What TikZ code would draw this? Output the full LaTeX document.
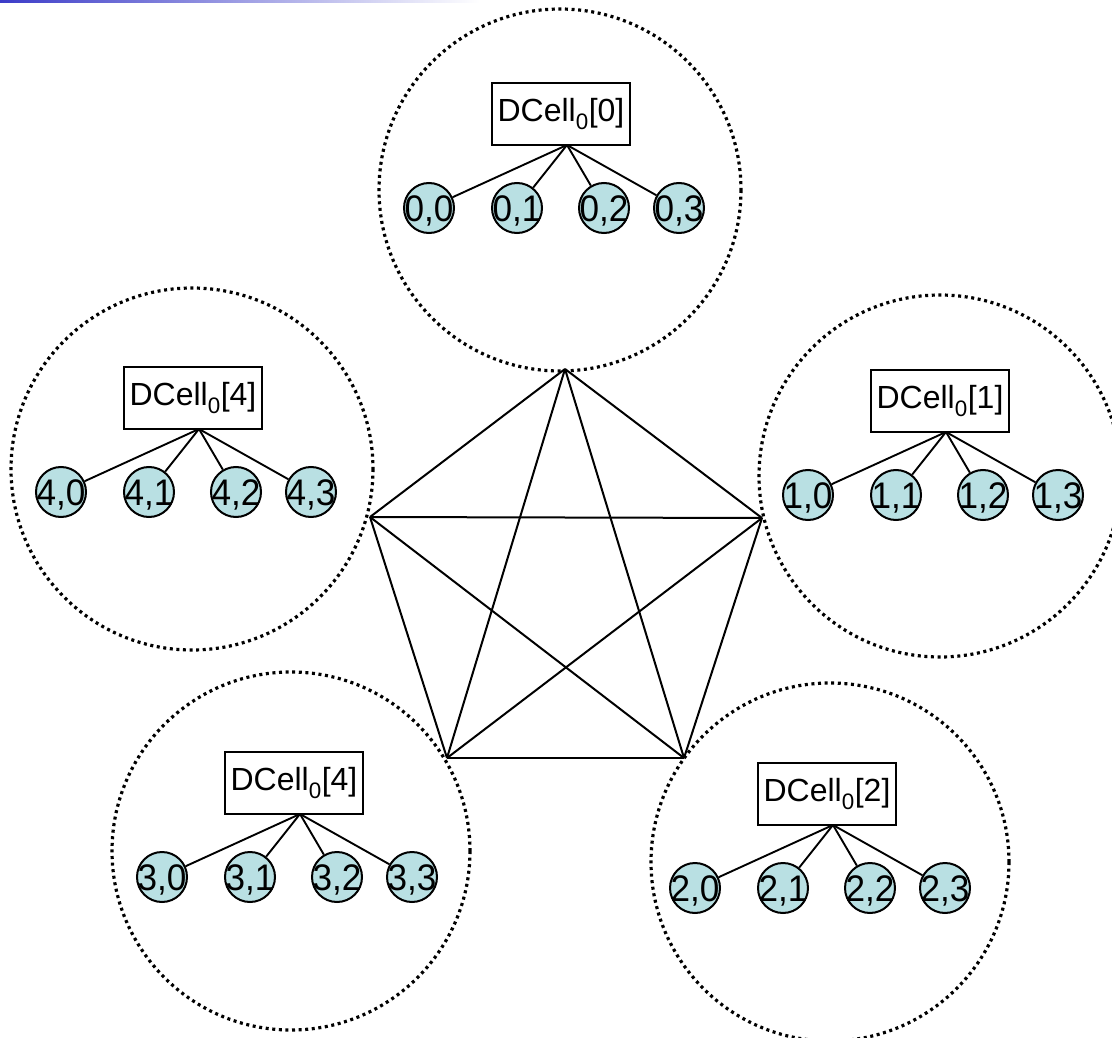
\documentclass[tikz,border=0pt]{standalone}
\usepackage{fontspec}
\setmainfont{Liberation Sans}
\usepackage{graphicx}
\definecolor{srvfill}{RGB}{185,224,227}
\definecolor{barblue}{RGB}{60,60,200}
\begin{document}
\begin{tikzpicture}[x=1pt,y=-1pt,
  ring/.style={draw, line width=3.2pt, dash pattern=on 3pt off 3.6pt},
  cellbox/.style={draw, line width=1.8pt, minimum width=138pt, minimum height=62pt,
    inner sep=0pt, font=\fontsize{32}{36}\selectfont},
  srv/.style={circle, draw, line width=2pt, fill=srvfill, minimum size=50pt, inner sep=0pt},
  srvtext/.style={font=\fontsize{37}{37}\selectfont, inner sep=0pt, yshift=-3pt},
  link/.style={line width=1.9pt},
  mesh/.style={line width=2pt}]
\useasboundingbox (0,0) rectangle (1112,1038);

% thin title bar fading out to the right
\shade[left color=barblue, right color=white] (0,0) rectangle (480,2.5);

% one DCell_0: switch box, apex point and four servers
% #1 server prefix, #2/#3 apex position, #4 box index
\newcommand\dcellgroup[4]{%
  \node[cellbox] (b#1) at (#2-6,#3-31) {DCell\textsubscript{0}[#4]};
  \coordinate (a#1) at (#2,#3);
  \foreach \k/\dx in {0/-138,1/-50,2/37,3/112}{%
    \node[srv, label={[srvtext]center:\scalebox{0.95}[1]{#1,\k}}] (s#1\k) at (#2+\dx,#3+63) {};
    \draw[link] (a#1) -- (s#1\k);
  }%
}

% surrounding rings
\draw[ring] (560,190) circle (181);
\draw[ring] (940,476) circle (181);
\draw[ring] (830,862) circle (179);
\draw[ring] (291,851) circle (179);
\draw[ring] (192,469) circle (181);

% the five DCell_0 groups
\dcellgroup{0}{567}{145}{0}
\dcellgroup{1}{946}{432}{1}
\dcellgroup{2}{833}{825}{2}
\dcellgroup{3}{300}{814}{4}
\dcellgroup{4}{199}{429}{4}

% complete graph between the five cells
\coordinate (v0) at (565,369);
\coordinate (v1) at (762,518);
\coordinate (v2) at (684,758);
\coordinate (v3) at (447,758);
\coordinate (v4) at (370,517);
\foreach \p/\q in {0/1,0/2,0/3,0/4,1/2,1/3,1/4,2/3,2/4,3/4}
  \draw[mesh] (v\p) -- (v\q);
\end{tikzpicture}
\end{document}
